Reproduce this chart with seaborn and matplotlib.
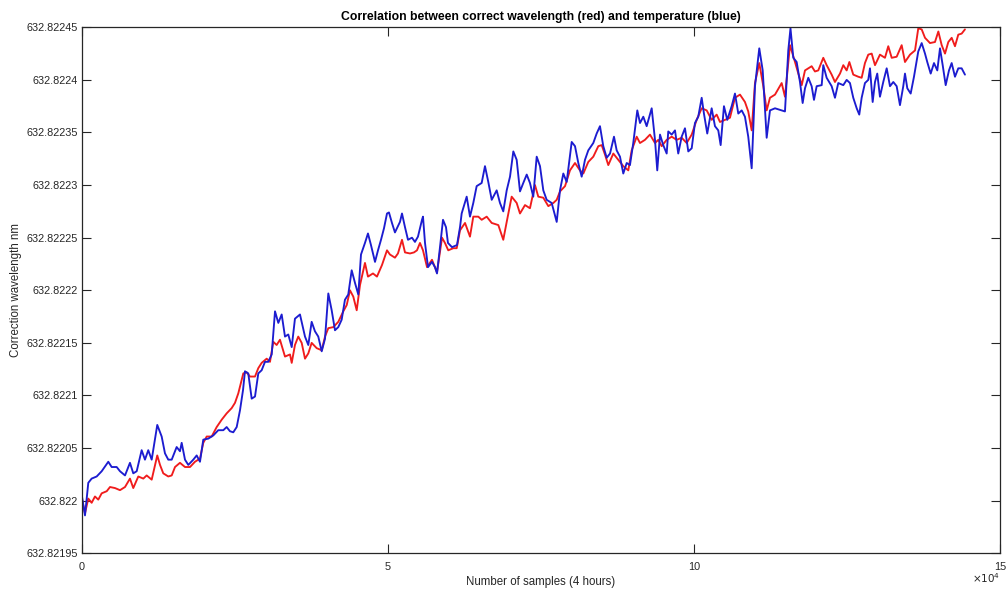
import matplotlib
matplotlib.use("Agg")
import matplotlib.pyplot as plt
import seaborn as sns
import pandas as pd

# ---------------- data ----------------
title = "Correlation between correct wavelength (red) and temperature (blue)"
xlabel = "Number of samples (4 hours)"
ylabel = "Correction wavelength nm"

xticks = [0, 50000, 100000, 150000]
xtick_labels = ["0", "5", "10", "15"]
yticks = [632.82195, 632.82200, 632.82205, 632.82210, 632.82215, 632.82220,
          632.82225, 632.82230, 632.82235, 632.82240, 632.82245]
ytick_labels = ["632.82195", "632.822", "632.82205", "632.8221", "632.82215", "632.8222",
                "632.82225", "632.8223", "632.82235", "632.8224", "632.82245"]

# temperature (blue)
blue_x = [0, 490, 1030, 1580, 2400, 3220, 4300, 4850, 5670, 6210, 7030, 7840, 8380, 8940,
          9750, 10290, 10830, 11390, 12300, 13020, 13560, 14100, 14660, 15470, 16010, 16290,
          16830, 17370, 18190, 18740, 19280, 19820, 20640, 21450, 22270, 23090, 23640, 24180,
          24720, 25280, 25820, 26310, 26630, 27170, 27730, 28270, 28810, 29360, 29900, 30440,
          31000, 31540, 32080, 32630, 33170, 33710, 34270, 34800, 35620, 36440, 36980, 37530,
          38070, 38610, 39170, 39710, 40250, 40800, 41340, 41880, 42430, 42970, 43510, 44070,
          44610, 45150, 45590, 46240, 46730, 47220, 47880, 48370, 48860, 49350, 49840, 50160,
          50650, 51140, 51470, 51960, 52290, 52780, 53270, 53920, 54410, 54900, 55560, 55720,
          56050, 56540, 57190, 57680, 58010, 58500, 58990, 59480, 59800, 60460, 61280, 61770,
          62040, 62860, 63400, 63940, 64490, 65310, 65850, 66390, 66950, 67760, 68300, 68840,
          69400, 69940, 70480, 71030, 71570, 72110, 72670, 73200, 73740, 74300, 74840, 75380,
          75930, 76750, 77570, 78110, 78650, 79200, 80020, 80560, 81100, 81650, 82190, 82730,
          83550, 84100, 84640, 85180, 85740, 86280, 86930, 87370, 87910, 88450, 89010, 89540,
          90080, 90740, 91180, 91720, 92270, 93090, 93630, 94000, 94450, 94980, 95540, 95800,
          96360, 96900, 97430, 97990, 98530, 99070, 99630, 100160, 100700, 101260, 101630,
          102170, 102890, 103430, 103970, 104360, 104900, 105440, 106160, 106700, 107240,
          107800, 108330, 108870, 109430, 109970, 110670, 111230, 111880, 112420, 113240,
          114330, 114870, 115410, 115770, 116230, 116780, 117320, 117760, 118140, 118680,
          119230, 119610, 120050, 120870, 121130, 121680, 122500, 123040, 123580, 124400,
          124950, 125490, 126030, 126590, 127010, 127400, 127940, 128480, 128760, 129200,
          129580, 129950, 130390, 130930, 131490, 132030, 132570, 133120, 133660, 134200,
          134480, 134860, 135410, 135950, 136650, 137210, 137750, 138120, 138680, 139220,
          139760, 140200, 140640, 141130, 141670, 142110, 142650, 143190, 143740, 144280]
blue_y = [632.822004, 632.821986, 632.822017, 632.822021, 632.822023, 632.822028, 632.822037,
          632.822032, 632.822032, 632.822028, 632.822024, 632.822036, 632.822026, 632.822028,
          632.822048, 632.822039, 632.822048, 632.822039, 632.822072, 632.822061, 632.822045,
          632.822039, 632.822039, 632.822051, 632.822047, 632.822055, 632.822039, 632.822034,
          632.822039, 632.822043, 632.822037, 632.822058, 632.822059, 632.822062, 632.822067,
          632.822067, 632.822070, 632.822066, 632.822065, 632.822070, 632.822086, 632.822105,
          632.822123, 632.822121, 632.822097, 632.822099, 632.822121, 632.822124, 632.822132,
          632.822132, 632.822139, 632.822180, 632.822169, 632.822177, 632.822156, 632.822158,
          632.822146, 632.822173, 632.822177, 632.822156, 632.822148, 632.822170, 632.822161,
          632.822156, 632.822142, 632.822154, 632.822197, 632.822181, 632.822162, 632.822165,
          632.822172, 632.822191, 632.822196, 632.822219, 632.822207, 632.822196, 632.822234,
          632.822245, 632.822254, 632.822243, 632.822227, 632.822238, 632.822248, 632.822259,
          632.822273, 632.822274, 632.822264, 632.822255, 632.822259, 632.822265, 632.822273,
          632.822260, 632.822248, 632.822250, 632.822246, 632.822251, 632.822267, 632.822270,
          632.822245, 632.822222, 632.822227, 632.822222, 632.822216, 632.822241, 632.822267,
          632.822260, 632.822245, 632.822241, 632.822243, 632.822260, 632.822273, 632.822289,
          632.822270, 632.822283, 632.822299, 632.822302, 632.822318, 632.822303, 632.822286,
          632.822295, 632.822283, 632.822275, 632.822295, 632.822308, 632.822332, 632.822324,
          632.822294, 632.822302, 632.822310, 632.822302, 632.822289, 632.822327, 632.822318,
          632.822295, 632.822286, 632.822283, 632.822265, 632.822295, 632.822311, 632.822303,
          632.822341, 632.822337, 632.822321, 632.822308, 632.822324, 632.822333, 632.822340,
          632.822349, 632.822356, 632.822337, 632.822326, 632.822330, 632.822346, 632.822333,
          632.822327, 632.822311, 632.822321, 632.822319, 632.822340, 632.822371, 632.822359,
          632.822365, 632.822356, 632.822373, 632.822343, 632.822314, 632.822348, 632.822338,
          632.822330, 632.822351, 632.822348, 632.822352, 632.822330, 632.822346, 632.822354,
          632.822332, 632.822335, 632.822359, 632.822365, 632.822383, 632.822368, 632.822349,
          632.822373, 632.822356, 632.822352, 632.822338, 632.822375, 632.822362, 632.822375,
          632.822387, 632.822368, 632.822371, 632.822365, 632.822346, 632.822316, 632.822394,
          632.822430, 632.822409, 632.822345, 632.822371, 632.822373, 632.822371, 632.822370,
          632.822428, 632.822449, 632.822421, 632.822417, 632.822398, 632.822378, 632.822392,
          632.822402, 632.822394, 632.822381, 632.822394, 632.822395, 632.822414, 632.822402,
          632.822394, 632.822383, 632.822397, 632.822395, 632.822400, 632.822397, 632.822383,
          632.822373, 632.822367, 632.822383, 632.822397, 632.822400, 632.822411, 632.822379,
          632.822398, 632.822406, 632.822384, 632.822398, 632.822411, 632.822394, 632.822398,
          632.822394, 632.822376, 632.822394, 632.822406, 632.822392, 632.822387, 632.822403,
          632.822427, 632.822435, 632.822425, 632.822417, 632.822406, 632.822416, 632.822409,
          632.822430, 632.822414, 632.822395, 632.822409, 632.822416, 632.822403, 632.822411,
          632.822411, 632.822405]

# corrected wavelength (red)
red_x = [0, 490, 1030, 1580, 2120, 2660, 3220, 4040, 4580, 5390, 6210, 7030, 7840, 8380, 9200,
         10020, 10570, 11390, 12300, 12750, 13280, 14100, 14660, 15200, 16010, 16830, 17650,
         18460, 19280, 19820, 20380, 21190, 22010, 22830, 23640, 24460, 25000, 25540, 26360,
         26910, 27450, 28270, 28810, 29360, 30180, 30720, 31260, 31810, 32350, 33170, 33990,
         34270, 34800, 35340, 35900, 36440, 36980, 37530, 38350, 39170, 39710, 40250, 41070,
         41880, 42700, 43260, 43790, 44330, 44890, 45430, 46240, 46730, 47550, 48200, 49020,
         49840, 50320, 51140, 51630, 52290, 52780, 53600, 54250, 54740, 55230, 55720, 56380,
         57190, 58010, 58830, 59310, 59850, 60670, 61230, 61770, 62590, 63400, 63940, 64760,
         65310, 66130, 66950, 68030, 68840, 69400, 70210, 71030, 71570, 72390, 73200, 74020,
         74560, 75380, 76200, 77020, 77570, 78110, 78930, 79740, 80560, 81370, 81920, 82730,
         83550, 84370, 84920, 85460, 86000, 86820, 87630, 88450, 89270, 89820, 90640, 91180,
         91990, 92810, 93630, 94170, 94720, 95540, 96360, 97170, 97990, 98810, 99630, 100440,
         101260, 102080, 102890, 103710, 104250, 105070, 105880, 106700, 107520, 108330,
         108870, 109430, 109970, 110670, 111330, 111880, 112420, 113240, 114330, 114870,
         115690, 116510, 117050, 117610, 118140, 118680, 119230, 119770, 120310, 121130,
         121680, 122500, 123040, 123860, 124400, 124950, 125390, 126030, 126850, 127400,
         127940, 128480, 129040, 129580, 130390, 131210, 131750, 132310, 133120, 133940,
         134480, 135300, 136120, 136650, 137210, 137750, 138570, 139380, 139930, 140480,
         141020, 141560, 142110, 142650, 143190, 143740, 144280]
red_y = [632.822001, 632.821988, 632.822002, 632.821998, 632.822004, 632.822001, 632.822007,
         632.822009, 632.822013, 632.822012, 632.822010, 632.822013, 632.822021, 632.822012,
         632.822023, 632.822021, 632.822024, 632.822020, 632.822043, 632.822034, 632.822026,
         632.822023, 632.822024, 632.822032, 632.822036, 632.822032, 632.822032, 632.822037,
         632.822040, 632.822055, 632.822061, 632.822061, 632.822070, 632.822077, 632.822083,
         632.822088, 632.822093, 632.822102, 632.822121, 632.822122, 632.822118, 632.822118,
         632.822126, 632.822131, 632.822135, 632.822132, 632.822151, 632.822148, 632.822153,
         632.822137, 632.822139, 632.822131, 632.822148, 632.822156, 632.822150, 632.822135,
         632.822140, 632.822150, 632.822145, 632.822143, 632.822156, 632.822164, 632.822165,
         632.822170, 632.822180, 632.822186, 632.822200, 632.822194, 632.822181, 632.822205,
         632.822226, 632.822213, 632.822216, 632.822213, 632.822224, 632.822238, 632.822234,
         632.822231, 632.822235, 632.822248, 632.822236, 632.822235, 632.822236, 632.822238,
         632.822245, 632.822238, 632.822222, 632.822229, 632.822217, 632.822250, 632.822245,
         632.822238, 632.822240, 632.822240, 632.822257, 632.822264, 632.822251, 632.822270,
         632.822270, 632.822267, 632.822270, 632.822264, 632.822262, 632.822248, 632.822265,
         632.822289, 632.822283, 632.822273, 632.822281, 632.822278, 632.822300, 632.822289,
         632.822288, 632.822280, 632.822283, 632.822286, 632.822294, 632.822299, 632.822314,
         632.822321, 632.822314, 632.822311, 632.822322, 632.822327, 632.822337, 632.822338,
         632.822329, 632.822319, 632.822330, 632.822324, 632.822318, 632.822314, 632.822333,
         632.822346, 632.822340, 632.822343, 632.822348, 632.822340, 632.822343, 632.822337,
         632.822343, 632.822346, 632.822343, 632.822345, 632.822340, 632.822348, 632.822362,
         632.822373, 632.822371, 632.822362, 632.822367, 632.822360, 632.822362, 632.822364,
         632.822383, 632.822386, 632.822379, 632.822370, 632.822352, 632.822397, 632.822416,
         632.822394, 632.822371, 632.822383, 632.822386, 632.822397, 632.822384, 632.822433,
         632.822417, 632.822406, 632.822395, 632.822409, 632.822411, 632.822413, 632.822408,
         632.822409, 632.822421, 632.822414, 632.822405, 632.822398, 632.822406, 632.822414,
         632.822409, 632.822417, 632.822405, 632.822403, 632.822402, 632.822416, 632.822424,
         632.822425, 632.822414, 632.822424, 632.822421, 632.822432, 632.822421, 632.822422,
         632.822433, 632.822417, 632.822424, 632.822428, 632.822449, 632.822448, 632.822440,
         632.822435, 632.822436, 632.822446, 632.822433, 632.822425, 632.822436, 632.822440,
         632.822432, 632.822443, 632.822444, 632.822448]

# ---------------- plotting ----------------
sns.set_theme(style="ticks")
plt.rcParams["font.family"] = ["Liberation Sans", "DejaVu Sans"]

red_df = pd.DataFrame({"samples": red_x, "wavelength": red_y})
blue_df = pd.DataFrame({"samples": blue_x, "wavelength": blue_y})

fig = plt.figure(figsize=(10.06, 5.92), dpi=100)
ax = fig.add_axes([0.0815, 0.0654, 0.9125, 0.8885])

sns.lineplot(data=red_df, x="samples", y="wavelength", color="#f01c1c", linewidth=1.35,
             estimator=None, sort=False, ax=ax)
sns.lineplot(data=blue_df, x="samples", y="wavelength", color="#1c1cd0", linewidth=1.35,
             estimator=None, sort=False, ax=ax)

ax.set_xlim(0, 150000)
ax.set_ylim(632.82195, 632.82245)
ax.set_xticks(xticks, xtick_labels)
ax.set_yticks(yticks, ytick_labels)

ax.tick_params(axis="both", which="both", direction="in", length=6.5, width=0.8,
               top=True, right=True, labelsize=7.8, colors="#262626", pad=3)
ax.tick_params(axis="x", pad=6)
for s in ax.spines.values():
    s.set_visible(True)
    s.set_linewidth(0.9)
    s.set_color("#262626")

ax.set_title(title, fontsize=8.8, fontweight="bold", color="black", pad=5)
ax.set_xlabel(xlabel, fontsize=8.3, color="#262626", labelpad=3)
ax.set_ylabel(ylabel, fontsize=8.3, color="#262626", labelpad=3)
ax.text(1.0, -0.035, r"$\times10^{4}$", transform=ax.transAxes, ha="right", va="top",
        fontsize=7.5, color="#262626")
ax.grid(False)
ax.set_facecolor("white")
fig.patch.set_facecolor("white")

fig.savefig("out.png", dpi=100, facecolor="white")
